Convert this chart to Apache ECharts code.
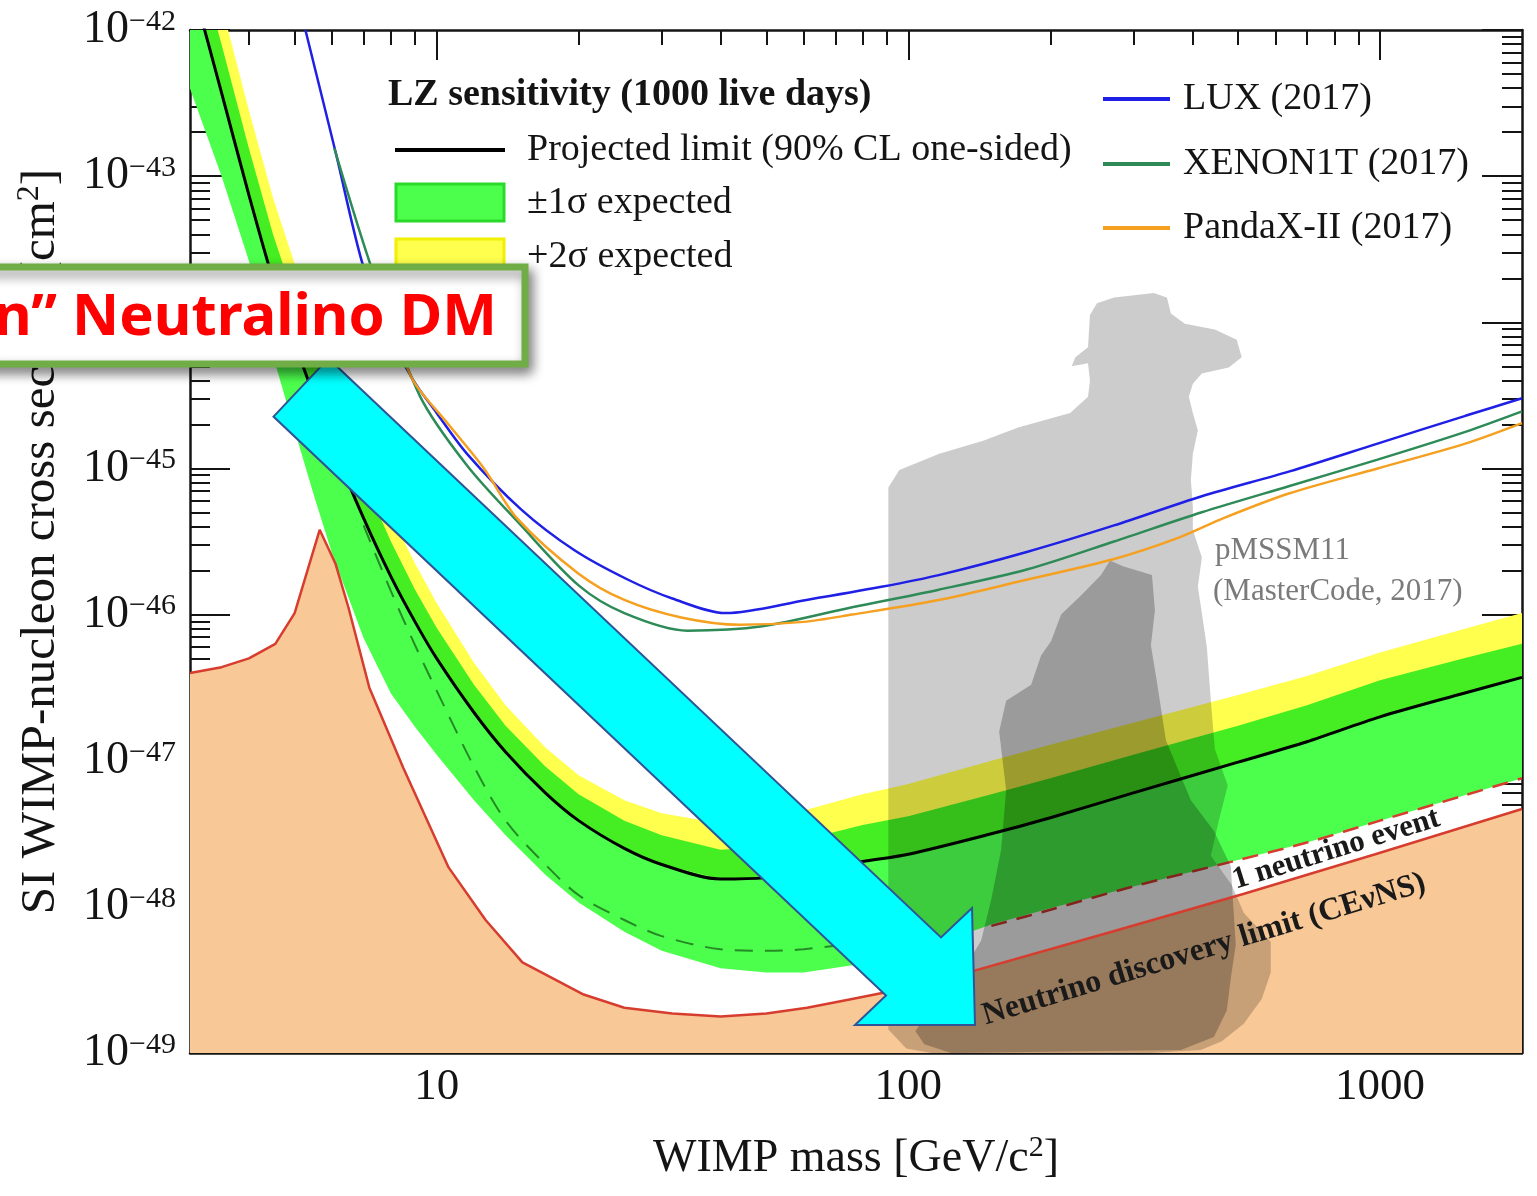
<!DOCTYPE html>
<html>
<head>
<meta charset="utf-8">
<script src="https://cdn.jsdelivr.net/npm/echarts@6/dist/echarts.min.js"></script>
<style>html,body{margin:0;padding:0;background:#fff}#c{width:1537px;height:1196px}</style>
</head>
<body>
<div id="c"></div>
<script>
// ---------------- DATA (mass in GeV/c^2, cross section as log10(sigma / cm^2)) ----------------
const xMajorTicks = [10, 100, 1000];
const xMinorTicks = [4, 5, 6, 7, 8, 9, 20, 30, 40, 50, 60, 70, 80, 90, 200, 300, 400, 500, 600, 700, 800, 900];
const yDecades = [-49, -48, -47, -46, -45, -44, -43, -42];

// LZ projected sensitivity (1000 live days)
const lzMass   = [3, 3.5, 4, 4.5, 5, 5.5, 6, 7, 8, 9, 10, 12, 14, 17, 20, 25, 30, 40, 50, 60, 80, 100, 150, 200, 300, 500, 700, 1000, 1500, 2000];
const lzLimit  = [-41.63, -42.43, -43.13, -43.71, -44.14, -44.51, -44.83, -45.34, -45.74, -46.05, -46.30, -46.67, -46.94, -47.22, -47.41, -47.60, -47.71, -47.81, -47.80, -47.76, -47.69, -47.64, -47.50, -47.39, -47.22, -47.01, -46.87, -46.70, -46.54, -46.43];
const lzPlus1  = [-41.30, -42.10, -42.81, -43.40, -43.84, -44.22, -44.55, -45.08, -45.50, -45.83, -46.09, -46.48, -46.76, -47.04, -47.23, -47.41, -47.51, -47.61, -47.59, -47.54, -47.44, -47.38, -47.23, -47.12, -46.96, -46.76, -46.62, -46.45, -46.30, -46.20];
const lzPlus2  = [-41.03, -41.83, -42.55, -43.15, -43.60, -43.99, -44.33, -44.89, -45.32, -45.65, -45.92, -46.33, -46.62, -46.91, -47.10, -47.27, -47.36, -47.43, -47.40, -47.34, -47.23, -47.16, -47.00, -46.89, -46.74, -46.55, -46.42, -46.26, -46.10, -45.99];
const lzMinus1 = [-42.40, -43.00, -43.58, -44.23, -44.74, -45.19, -45.58, -46.16, -46.54, -46.77, -46.96, -47.27, -47.51, -47.78, -47.97, -48.17, -48.30, -48.42, -48.45, -48.45, -48.39, -48.32, -48.12, -48.01, -47.86, -47.68, -47.56, -47.41, -47.24, -47.12];

// median expected (dashed)
const medMass = [7, 8, 9, 10, 12, 14, 17, 20, 25, 30, 40, 50, 60, 80, 100];
const medLog  = [-45.39, -45.84, -46.21, -46.52, -47.04, -47.41, -47.71, -47.92, -48.09, -48.20, -48.29, -48.30, -48.29, -48.24, -48.19];

// LUX (2017)
const luxMass = [5.27, 6.1, 6.95, 7.8, 8.9, 10, 11.6, 15.1, 19.6, 25.4, 31.6, 41, 60.8, 87.7, 116, 179, 273, 419, 643, 988, 1517, 2000];
const luxLog  = [-42.0, -42.83, -43.59, -44.03, -44.39, -44.62, -44.90, -45.28, -45.56, -45.76, -45.89, -45.99, -45.90, -45.81, -45.73, -45.57, -45.39, -45.19, -45.02, -44.83, -44.64, -44.52];

// XENON1T (2017)
const xeMass = [6.07, 7.3, 9.2, 11.6, 15, 20, 25, 34, 49, 76, 116, 179, 273, 419, 643, 988, 1517, 2000];
const xeLog  = [-42.81, -43.64, -44.50, -44.98, -45.38, -45.80, -45.99, -46.11, -46.08, -45.95, -45.83, -45.69, -45.50, -45.30, -45.12, -44.94, -44.75, -44.61];

// PandaX-II (2017)
const paMass = [8.4, 9.0, 10.6, 12.6, 14.8, 20, 25, 33, 44, 60, 76, 116, 179, 273, 377, 466, 643, 988, 1517, 2000];
const paLog  = [-44.20, -44.42, -44.70, -45.00, -45.34, -45.72, -45.90, -46.02, -46.07, -46.05, -46.00, -45.90, -45.76, -45.62, -45.47, -45.34, -45.17, -45.00, -44.83, -44.69];

// Neutrino discovery limit (CEvNS)
const floorMass = [3, 3.5, 4, 4.55, 5.0, 5.65, 6.1, 6.5, 7.2, 8.5, 10.6, 12.7, 15.2, 20.5, 25, 31.6, 40, 50, 61, 76, 88, 137, 270, 515, 977, 2000];
const floorLog  = [-46.40, -46.36, -46.30, -46.20, -45.99, -45.42, -45.65, -45.95, -46.50, -47.05, -47.73, -48.09, -48.38, -48.60, -48.69, -48.73, -48.75, -48.73, -48.69, -48.63, -48.59, -48.44, -48.17, -47.91, -47.64, -47.33];

// 1 neutrino event
const nuEventMass = [150, 200, 300, 500, 700, 1000, 1500, 2000];
const nuEventLog  = [-48.13, -48.02, -47.86, -47.68, -47.56, -47.41, -47.24, -47.12];

// pMSSM11 (MasterCode, 2017) regions: [mass, log10 sigma]
const pmssmOuter = [[90.7,-48.84],[90.7,-46.45],[90.7,-45.13],[95.7,-45.01],[116.3,-44.90],[144.1,-44.81],[170.9,-44.72],[194.0,-44.67],[220.3,-44.62],[240.4,-44.51],[242.7,-44.40],[240.4,-44.28],[222.0,-44.30],[226.0,-44.24],[240.4,-44.17],[242.7,-43.95],[251.2,-43.87],[272.9,-43.83],[331.6,-43.80],[353.4,-43.83],[360.3,-43.94],[385.7,-44.01],[446.5,-44.05],[496.9,-44.12],[509.2,-44.24],[477.9,-44.31],[419.1,-44.35],[401.1,-44.42],[393.3,-44.51],[401.1,-44.62],[411.0,-44.74],[401.1,-44.90],[397.2,-45.08],[401.1,-45.26],[401.1,-45.42],[419.1,-45.61],[411.0,-45.81],[419.1,-45.99],[429.4,-46.22],[437.9,-46.59],[446.5,-46.92],[475.6,-47.17],[455.2,-47.41],[437.9,-47.65],[484.9,-47.85],[514.2,-48.04],[586.7,-48.24],[586.7,-48.45],[561.5,-48.63],[514.2,-48.80],[461.9,-48.92],[417.0,-48.98],[326.8,-49.0],[111.9,-49.0],[99.0,-48.97]];
const pmssmInner = [[267.6,-45.63],[285.1,-45.67],[328.5,-45.73],[333.3,-45.97],[326.8,-46.21],[336.5,-46.46],[351.6,-46.86],[397.2,-47.27],[444.3,-47.48],[482.6,-47.72],[494.5,-48.26],[482.6,-48.49],[473.3,-48.71],[444.3,-48.89],[378.3,-48.98],[123.3,-49.0],[108.1,-48.94],[103.5,-48.85],[114.7,-48.64],[132.7,-48.40],[142.7,-48.23],[149.9,-47.95],[157.3,-47.61],[161.2,-47.20],[155.8,-46.80],[161.2,-46.59],[182.1,-46.48],[191.2,-46.28],[200.8,-46.18],[210.8,-46.00],[232.3,-45.87],[256.2,-45.73]];

// ---------------- helpers ----------------
const L = Math.log10;
const XMIN = L(3), XMAX = L(2000);
const pts = (ms, ls) => ms.map((m, i) => [L(m), ls[i]]);
const polyPts = arr => arr.map(p => [L(p[0]), p[1]]);
const bandPts = (upper, lower) => pts(lzMass, upper).concat(pts(lzMass, lower).reverse());

const SERIF = '"Liberation Serif", "Times New Roman", serif';
const INK = '#141414';

const xMinorLog = xMinorTicks.map(L);
const xMajorLog = xMajorTicks.map(L);
const yMinorLog = [];
for (let i = 0; i < yDecades.length - 1; i++) for (let k = 2; k <= 9; k++) yMinorLog.push(yDecades[i] + L(k));

function polygonSeries(name, poly, fill, z) {
  return {
    type: 'custom', name: name, z: z, silent: true, clip: true,
    xAxisIndex: 0, yAxisIndex: 0,
    data: [[1.5, -45]],
    renderItem: function (params, api) {
      const cs = params.coordSys;
      return {
        type: 'polygon',
        shape: { points: poly.map(p => api.coord(p)) },
        style: { fill: fill },
        clipPath: { type: 'rect', shape: { x: cs.x, y: cs.y, width: cs.width, height: cs.height } }
      };
    }
  };
}
function lineSeries(name, data, color, width, z, extra) {
  return Object.assign({
    type: 'line', name: name, data: data, z: z, silent: true,
    xAxisIndex: 0, yAxisIndex: 0,
    showSymbol: false, symbol: 'none', clip: true,
    lineStyle: { color: color, width: width },
    smooth: 0.3
  }, extra || {});
}

const xLabelFmt = v => String(Math.round(Math.pow(10, v)));
const yLabelFmt = v => '{b|10}{s|' + (v < 0 ? '\u2212' + (-v) : v) + '}';

function xAxisDef(grid, pos, major) {
  return {
    gridIndex: grid, type: 'value', position: pos, min: XMIN, max: XMAX,
    axisLine: { show: major, onZero: false, lineStyle: { color: INK, width: 2.5 } },
    axisTick: { show: true, inside: true, length: major ? 30 : 15, customValues: major ? xMajorLog : xMinorLog,
                lineStyle: { color: INK, width: 2 } },
    axisLabel: { show: major && pos === 'bottom', customValues: xMajorLog, formatter: xLabelFmt, margin: 12,
                 fontSize: 45, fontFamily: SERIF, color: INK },
    splitLine: { show: false },
    name: (major && pos === 'bottom') ? '{t|WIMP mass [GeV/c}{s|2}{t|]}' : '',
    nameLocation: 'middle', nameGap: 80,
    nameTextStyle: { rich: {
      t: { fontSize: 46, fontFamily: SERIF, color: INK, lineHeight: 52 },
      s: { fontSize: 30, fontFamily: SERIF, color: INK, verticalAlign: 'top', lineHeight: 26 }
    } }
  };
}
function yAxisDef(grid, pos, major) {
  const d = {
    gridIndex: grid, type: 'value', position: pos, min: -49, max: -42,
    axisLine: { show: major, onZero: false, lineStyle: { color: INK, width: 2.5 } },
    axisTick: { show: true, inside: true, length: major ? 40 : 20, lineStyle: { color: INK, width: 2 } },
    axisLabel: { show: major && pos === 'left', formatter: yLabelFmt, margin: 14,
      rich: {
        b: { fontSize: 46, fontFamily: SERIF, color: INK, lineHeight: 46 },
        s: { fontSize: 30, fontFamily: SERIF, color: INK, verticalAlign: 'top', lineHeight: 24 }
      } },
    splitLine: { show: false },
    name: (major && pos === 'left') ? '{t|SI WIMP-nucleon cross section [cm}{s|2}{t|]}' : '',
    nameLocation: 'middle', nameRotate: 90, nameGap: 122,
    nameTextStyle: { rich: {
      t: { fontSize: 49, fontFamily: SERIF, color: INK, lineHeight: 54 },
      s: { fontSize: 32, fontFamily: SERIF, color: INK, verticalAlign: 'top', lineHeight: 28 }
    } }
  };
  if (major) { d.interval = 1; } else { d.axisTick.customValues = yMinorLog; }
  return d;
}

const gridBox = { left: 190, top: 30, width: 1332, height: 1023, containLabel: false, outerBoundsMode: 'none', show: false };

const option = {
  animation: false,
  backgroundColor: '#ffffff',
  grid: [Object.assign({}, gridBox), Object.assign({}, gridBox)],
  xAxis: [xAxisDef(0, 'bottom', true), xAxisDef(0, 'top', true), xAxisDef(1, 'bottom', false), xAxisDef(1, 'top', false)],
  yAxis: [yAxisDef(0, 'left', true), yAxisDef(0, 'right', true), yAxisDef(1, 'left', false), yAxisDef(1, 'right', false)],
  series: [
    lineSeries('Neutrino floor area', pts(floorMass, floorLog), 'rgba(0,0,0,0)', 0, 1,
      { smooth: false, areaStyle: { color: '#F9C897', opacity: 1, origin: 'start' } }),
    polygonSeries('+2σ expected', bandPts(lzPlus2, lzLimit), '#FFFF4D', 2),
    polygonSeries('±1σ expected (upper)', bandPts(lzPlus1, lzLimit), '#44EE22', 3),
    polygonSeries('±1σ expected', bandPts(lzLimit, lzMinus1), '#4DFF4D', 3),
    lineSeries('1 neutrino event', pts(nuEventMass, nuEventLog), '#D63D2E', 2.5, 4,
      { lineStyle: { color: '#D63D2E', width: 2.5, type: [16, 10] } }),
    polygonSeries('pMSSM11', polyPts(pmssmOuter), 'rgba(0,0,0,0.20)', 5),
    polygonSeries('pMSSM11 (inner)', polyPts(pmssmInner), 'rgba(0,0,0,0.24)', 6),
    lineSeries('Neutrino discovery limit (CEvNS)', pts(floorMass, floorLog), '#D63D2E', 2.5, 7, { smooth: false }),
    lineSeries('Median expected', pts(medMass, medLog), '#2E7A2E', 2, 8,
      { lineStyle: { color: 'rgba(20,90,20,0.7)', width: 2, type: [18, 12] } }),
    lineSeries('Projected limit (90% CL one-sided)', pts(lzMass, lzLimit), '#000000', 3, 9, { smooth: 0.3 }),
    lineSeries('LUX (2017)', pts(luxMass, luxLog), '#1F1FE6', 2.5, 10),
    lineSeries('XENON1T (2017)', pts(xeMass, xeLog), '#2E8B57', 2.5, 10),
    lineSeries('PandaX-II (2017)', pts(paMass, paLog), '#F5A020', 2.5, 10)
  ],
  graphic: { elements: [
    // legend (LZ)
    { type: 'text', x: 388, y: 95, z: 50, style: { text: 'LZ sensitivity (1000 live days)', font: 'bold 38px ' + SERIF, fill: INK, textAlign: 'left', textVerticalAlign: 'middle', align: 'left', verticalAlign: 'middle' } },
    { type: 'line', z: 50, shape: { x1: 395, y1: 150, x2: 505, y2: 150 }, style: { stroke: '#000', lineWidth: 4 } },
    { type: 'text', x: 527, y: 150, z: 50, style: { text: 'Projected limit (90% CL one-sided)', font: '38px ' + SERIF, fill: INK, textAlign: 'left', textVerticalAlign: 'middle', align: 'left', verticalAlign: 'middle' } },
    { type: 'rect', z: 50, shape: { x: 396, y: 184, width: 108, height: 37 }, style: { fill: '#4DFF4D', stroke: '#2BD92B', lineWidth: 3 } },
    { type: 'text', x: 527, y: 203, z: 50, style: { text: '±1σ expected', font: '38px ' + SERIF, fill: INK, textAlign: 'left', textVerticalAlign: 'middle', align: 'left', verticalAlign: 'middle' } },
    { type: 'rect', z: 50, shape: { x: 396, y: 239, width: 108, height: 36 }, style: { fill: '#FFFF4D', stroke: '#F0F000', lineWidth: 3 } },
    { type: 'text', x: 527, y: 257, z: 50, style: { text: '+2σ expected', font: '38px ' + SERIF, fill: INK, textAlign: 'left', textVerticalAlign: 'middle', align: 'left', verticalAlign: 'middle' } },
    // legend (experiments)
    { type: 'line', z: 50, shape: { x1: 1103, y1: 99, x2: 1170, y2: 99 }, style: { stroke: '#1F1FE6', lineWidth: 4 } },
    { type: 'text', x: 1183, y: 99, z: 50, style: { text: 'LUX (2017)', font: '38px ' + SERIF, fill: INK, textAlign: 'left', textVerticalAlign: 'middle', align: 'left', verticalAlign: 'middle' } },
    { type: 'line', z: 50, shape: { x1: 1103, y1: 164, x2: 1170, y2: 164 }, style: { stroke: '#2E8B57', lineWidth: 4 } },
    { type: 'text', x: 1183, y: 164, z: 50, style: { text: 'XENON1T (2017)', font: '38px ' + SERIF, fill: INK, textAlign: 'left', textVerticalAlign: 'middle', align: 'left', verticalAlign: 'middle' } },
    { type: 'line', z: 50, shape: { x1: 1103, y1: 228, x2: 1170, y2: 228 }, style: { stroke: '#F5A020', lineWidth: 4 } },
    { type: 'text', x: 1183, y: 228, z: 50, style: { text: 'PandaX-II (2017)', font: '38px ' + SERIF, fill: INK, textAlign: 'left', textVerticalAlign: 'middle', align: 'left', verticalAlign: 'middle' } },
    // in-plot annotations
    { type: 'text', x: 1215, y: 551, z: 50, style: { text: 'pMSSM11', font: '31px ' + SERIF, fill: '#7A7A7A', textAlign: 'left', textVerticalAlign: 'middle', align: 'left', verticalAlign: 'middle' } },
    { type: 'text', x: 1213, y: 592, z: 50, style: { text: '(MasterCode, 2017)', font: '31px ' + SERIF, fill: '#7A7A7A', textAlign: 'left', textVerticalAlign: 'middle', align: 'left', verticalAlign: 'middle' } },
    { type: 'text', x: 1238, y: 896, rotation: 0.30, z: 50, style: { text: '1 neutrino event', font: 'bold 31px ' + SERIF, fill: '#1A1A1A', textAlign: 'left', textVerticalAlign: 'bottom', align: 'left', verticalAlign: 'bottom' } },
    { type: 'text', x: 988, y: 1032, rotation: 0.295, z: 50, style: { text: 'Neutrino discovery limit (CEνNS)', font: 'bold 32px ' + SERIF, fill: '#1A1A1A', textAlign: 'left', textVerticalAlign: 'bottom', align: 'left', verticalAlign: 'bottom' } },
    // cyan arrow overlay
    { type: 'polygon', z: 100, shape: { points: [[273.5, 416.6], [328.5, 358.4], [941, 937.4], [972, 908], [975, 1025], [855, 1025], [886, 995.6]] },
      style: { fill: '#00FFFF', stroke: '#2F5597', lineWidth: 2 } },
    // text box overlay
    { type: 'rect', z: 110, shape: { x: -20, y: 267, width: 545, height: 97 },
      style: { fill: '#FFFFFF', stroke: '#70AD47', lineWidth: 7, shadowBlur: 12, shadowColor: 'rgba(0,0,0,0.45)', shadowOffsetX: 4, shadowOffsetY: 6 } },
    { type: 'text', x: 497, y: 318, z: 111, style: { text: 'n\u201D Neutralino DM', font: 'bold 58px "Noto Sans", "Open Sans", sans-serif', fill: '#FF0000', textAlign: 'right', textVerticalAlign: 'middle', align: 'right', verticalAlign: 'middle' } }
  ] }
};

const chart = echarts.init(document.getElementById('c'), null, { renderer: 'canvas' });
chart.setOption(option);
</script>
</body>
</html>
